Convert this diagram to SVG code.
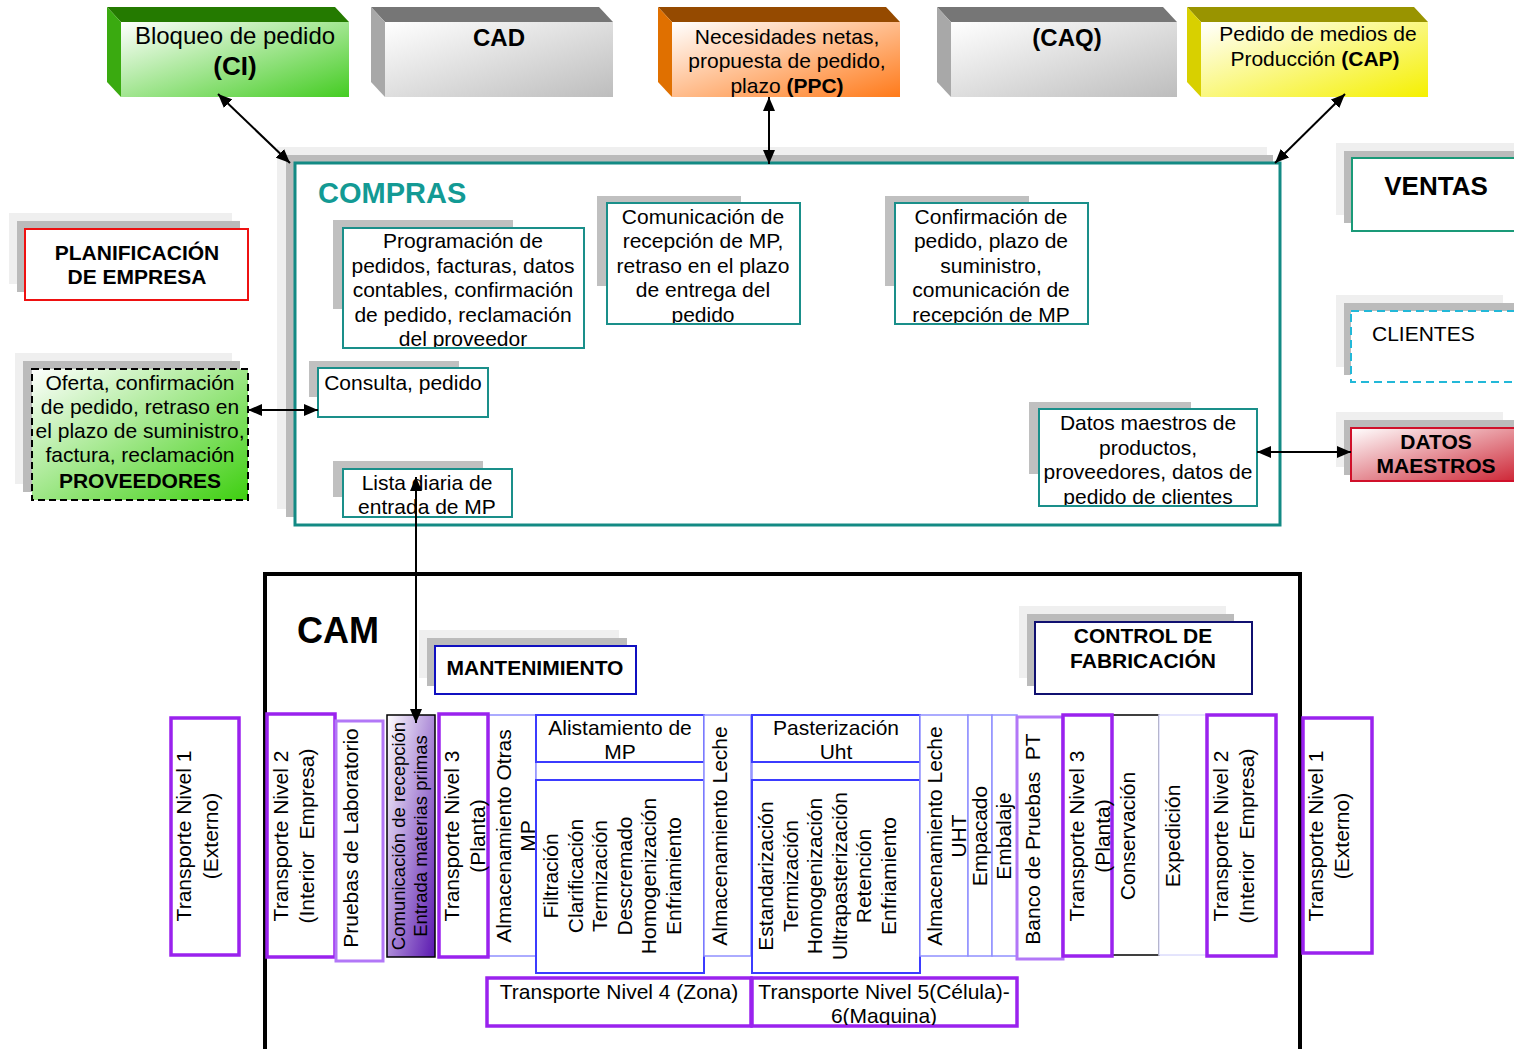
<svg xmlns="http://www.w3.org/2000/svg" width="1514" height="1049" viewBox="0 0 1514 1049">
<style>
text{font-family:"Liberation Sans",Arial,sans-serif;fill:#000;font-size:21px}
.c{text-anchor:middle}
.b{font-weight:bold}
.sl{fill:#efefef}
.sd{fill:#bbbbbb}
.sb{fill:#c0c0c0}
.tb{fill:#fff;stroke:#1a8f8a;stroke-width:2}
.pu{fill:#fff;stroke:#9a22ee;stroke-width:3.5}
.lp{fill:#fff;stroke:#b277f7;stroke-width:3}
.bl{fill:#fff;stroke:#3b3bff;stroke-width:2}
.lb{fill:#fff;stroke:#9090ff;stroke-width:1.5}
.ln{fill:none;stroke:#000;stroke-width:2;marker-start:url(#ar);marker-end:url(#ar)}
.v{font-size:21px}
</style>
<defs>
<marker id="ar" viewBox="0 0 14 12" refX="14" refY="6" markerWidth="14" markerHeight="12" markerUnits="userSpaceOnUse" orient="auto-start-reverse"><path d="M0,0 L14,6 L0,12 z" fill="#000"/></marker>
<linearGradient id="gG" x1="0" y1="0" x2="1" y2="1"><stop offset="0" stop-color="#fff"/><stop offset="1" stop-color="#44cc22"/></linearGradient>
<linearGradient id="gS" x1="0" y1="0" x2="1" y2="1"><stop offset="0" stop-color="#fff"/><stop offset="1" stop-color="#bdbdbd"/></linearGradient>
<linearGradient id="gO" x1="0" y1="0" x2="1" y2="1"><stop offset="0" stop-color="#fff"/><stop offset="1" stop-color="#ff7a1a"/></linearGradient>
<linearGradient id="gY" x1="0" y1="0" x2="1" y2="1"><stop offset="0" stop-color="#fff"/><stop offset="1" stop-color="#f5f000"/></linearGradient>
<linearGradient id="gP" x1="0" y1="0" x2="1" y2="1"><stop offset="0" stop-color="#fff"/><stop offset="1" stop-color="#3ecf10"/></linearGradient>
<linearGradient id="gR" x1="0" y1="0" x2="1" y2="1"><stop offset="0" stop-color="#fff"/><stop offset="1" stop-color="#cc2030"/></linearGradient>
<linearGradient id="gV" x1="0" y1="0" x2="1" y2="1"><stop offset="0" stop-color="#fff"/><stop offset="1" stop-color="#5a18b0"/></linearGradient>
<clipPath id="cProg"><rect x="343" y="228" width="241" height="119"/></clipPath>
<clipPath id="cCom"><rect x="607" y="203" width="193" height="120"/></clipPath>
<clipPath id="cConf"><rect x="895" y="203" width="193" height="120"/></clipPath>
<clipPath id="cDat"><rect x="1039" y="409" width="218" height="96"/></clipPath>
<clipPath id="cLista"><rect x="343" y="469" width="169" height="47"/></clipPath>
<clipPath id="cT5"><rect x="752" y="978" width="265" height="47"/></clipPath>
</defs>
<rect width="1514" height="1049" fill="#fff"/>

<!-- top boxes -->
<g id="ci">
<polygon points="107,7 335,7 349,22 121,22" fill="#247a00"/>
<polygon points="107,7 121,22 121,97 107,82" fill="#3aaa10"/>
<rect x="121" y="22" width="228" height="75" fill="url(#gG)"/>
<text class="c" x="235" y="44" style="font-size:24px">Bloqueo de pedido</text>
<text class="c b" x="235" y="75" style="font-size:26px">(CI)</text>
</g>
<g id="cad">
<polygon points="371,7 599,7 613,22 385,22" fill="#767676"/>
<polygon points="371,7 385,22 385,97 371,82" fill="#a8a8a8"/>
<rect x="385" y="22" width="228" height="75" fill="url(#gS)"/>
<text class="c b" x="499" y="46" style="font-size:24px">CAD</text>
</g>
<g id="ppc">
<polygon points="658,7 886,7 900,22 672,22" fill="#954a00"/>
<polygon points="658,7 672,22 672,97 658,82" fill="#e07000"/>
<rect x="672" y="22" width="228" height="75" fill="url(#gO)"/>
<text class="c" x="787" y="44">Necesidades netas,</text>
<text class="c" x="787" y="68">propuesta de pedido,</text>
<text class="c" x="787" y="93">plazo <tspan class="b">(PPC)</tspan></text>
</g>
<g id="caq">
<polygon points="937,7 1163,7 1177,22 951,22" fill="#767676"/>
<polygon points="937,7 951,22 951,97 937,82" fill="#a8a8a8"/>
<rect x="951" y="22" width="226" height="75" fill="url(#gS)"/>
<text class="c b" x="1067" y="46" style="font-size:24px">(CAQ)</text>
</g>
<g id="cap">
<polygon points="1187,7 1414,7 1428,22 1201,22" fill="#999400"/>
<polygon points="1187,7 1201,22 1201,97 1187,82" fill="#d8d000"/>
<rect x="1201" y="22" width="227" height="75" fill="url(#gY)"/>
<text class="c" x="1318" y="41">Pedido de medios de</text>
<text class="c" x="1315" y="66">Producción <tspan class="b">(CAP)</tspan></text>
</g>

<!-- left side -->
<g id="planificacion">
<rect class="sl" x="9" y="213" width="223" height="71"/>
<rect class="sd" x="17" y="221" width="223" height="71"/>
<rect x="25" y="229" width="223" height="71" fill="#fff" stroke="#ee1111" stroke-width="2"/>
<text class="c b" x="137" y="260">PLANIFICACIÓN</text>
<text class="c b" x="137" y="284">DE EMPRESA</text>
</g>
<g id="proveedores">
<rect class="sl" x="15" y="353" width="217" height="131"/>
<rect class="sd" x="23" y="361" width="217" height="131"/>
<rect x="32" y="369" width="216" height="131" fill="url(#gP)" stroke="#000" stroke-width="2" stroke-dasharray="7,4"/>
<text class="c" x="140" y="390">Oferta, confirmación</text>
<text class="c" x="140" y="414">de pedido, retraso en</text>
<text class="c" x="140" y="438">el plazo de suministro,</text>
<text class="c" x="140" y="462">factura, reclamación</text>
<text class="c b" x="140" y="488">PROVEEDORES</text>
</g>

<!-- COMPRAS -->
<g id="compras">
<rect class="sl" x="277" y="147" width="990" height="362"/>
<rect class="sd" x="286" y="155" width="987" height="362"/>
<rect x="295" y="163" width="985" height="362" fill="#fff" stroke="#138a84" stroke-width="3"/>
<text class="b" x="318" y="203" style="font-size:29px;fill:#139a94">COMPRAS</text>
</g>
<g id="programacion">
<rect class="sb" x="333" y="220" width="180" height="89"/>
<rect class="tb" x="343" y="228" width="241" height="120"/>
<g clip-path="url(#cProg)">
<text class="c" x="463" y="248">Programación de</text>
<text class="c" x="463" y="273">pedidos, facturas, datos</text>
<text class="c" x="463" y="297">contables, confirmación</text>
<text class="c" x="463" y="322">de pedido, reclamación</text>
<text class="c" x="463" y="346">del proveedor</text>
</g>
</g>
<g id="comunicacion">
<rect class="sb" x="597" y="196" width="144" height="90"/>
<rect class="tb" x="607" y="203" width="193" height="121"/>
<g clip-path="url(#cCom)">
<text class="c" x="703" y="224">Comunicación de</text>
<text class="c" x="703" y="248">recepción de MP,</text>
<text class="c" x="703" y="273">retraso en el plazo</text>
<text class="c" x="703" y="297">de entrega del</text>
<text class="c" x="703" y="322">pedido</text>
</g>
</g>
<g id="confirmacion">
<rect class="sb" x="885" y="196" width="144" height="90"/>
<rect class="tb" x="895" y="203" width="193" height="121"/>
<g clip-path="url(#cConf)">
<text class="c" x="991" y="224">Confirmación de</text>
<text class="c" x="991" y="248">pedido, plazo de</text>
<text class="c" x="991" y="273">suministro,</text>
<text class="c" x="991" y="297">comunicación de</text>
<text class="c" x="991" y="322">recepción de MP</text>
</g>
</g>
<g id="consulta">
<rect class="sb" x="309" y="361" width="150" height="36"/>
<rect class="tb" x="318" y="368" width="170" height="49"/>
<text class="c" x="403" y="390">Consulta, pedido</text>
</g>
<g id="lista">
<rect class="sb" x="333" y="461" width="150" height="36"/>
<rect class="tb" x="343" y="469" width="169" height="48"/>
<g clip-path="url(#cLista)">
<text class="c" x="427" y="490">Lista diaria de</text>
<text class="c" x="427" y="514">entrada de MP</text>
</g>
</g>
<g id="datos">
<rect class="sb" x="1029" y="402" width="162" height="72"/>
<rect class="tb" x="1039" y="409" width="218" height="97"/>
<g clip-path="url(#cDat)">
<text class="c" x="1148" y="430">Datos maestros de</text>
<text class="c" x="1148" y="455">productos,</text>
<text class="c" x="1148" y="479">proveedores, datos de</text>
<text class="c" x="1148" y="504">pedido de clientes</text>
</g>
</g>

<!-- right side -->
<g id="ventas">
<rect class="sl" x="1336" y="143" width="178" height="72"/>
<rect class="sd" x="1344" y="151" width="170" height="72"/>
<rect x="1352" y="158" width="170" height="73" fill="#fff" stroke="#1a9a78" stroke-width="2"/>
<text class="c b" x="1436" y="195" style="font-size:26px">VENTAS</text>
</g>
<g id="clientes">
<rect class="sl" x="1336" y="295" width="167" height="72"/>
<rect class="sd" x="1344" y="303" width="170" height="72"/>
<rect x="1351" y="311" width="175" height="71" fill="#fff" stroke="#22b8d8" stroke-width="2" stroke-dasharray="8,5"/>
<text x="1372" y="341">CLIENTES</text>
</g>
<g id="datosmaestros">
<rect class="sl" x="1336" y="412" width="167" height="55"/>
<rect class="sd" x="1344" y="420" width="170" height="55"/>
<rect x="1351" y="428" width="175" height="53" fill="url(#gR)" stroke="#d0102a" stroke-width="2"/>
<text class="c b" x="1436" y="449">DATOS</text>
<text class="c b" x="1436" y="473">MAESTROS</text>
</g>

<!-- CAM -->
<g id="cam">
<rect x="265" y="574" width="1035" height="500" fill="#fff" stroke="#000" stroke-width="4"/>
<text class="b" x="297" y="643" style="font-size:36px">CAM</text>
</g>
<g id="mantenimiento">
<rect class="sl" x="419" y="630" width="200" height="48"/>
<rect class="sd" x="427" y="638" width="200" height="48"/>
<rect x="435" y="646" width="201" height="48" fill="#fff" stroke="#1010c0" stroke-width="2"/>
<text class="c b" x="535" y="675">MANTENIMIENTO</text>
</g>
<g id="controlfab">
<rect class="sl" x="1019" y="606" width="207" height="72"/>
<rect class="sd" x="1027" y="614" width="207" height="72"/>
<rect x="1035" y="622" width="217" height="72" fill="#fff" stroke="#101070" stroke-width="2"/>
<text class="c b" x="1143" y="643">CONTROL DE</text>
<text class="c b" x="1143" y="668">FABRICACIÓN</text>
</g>

<!-- columns -->
<g id="tn1l">
<rect class="pu" x="171" y="718" width="68" height="237"/>
<text class="c v" transform="translate(191,836) rotate(-90)">Transporte Nivel 1</text>
<text class="c v" transform="translate(218,836) rotate(-90)">(Externo)</text>
</g>
<g id="tn2l">
<rect class="pu" x="267" y="714" width="68" height="243"/>
<text class="c v" transform="translate(288,836) rotate(-90)">Transporte Nivel 2</text>
<text class="c v" transform="translate(314,836) rotate(-90)">(Interior&#160; Empresa)</text>
</g>
<g id="pruebas">
<rect class="lp" x="336" y="721" width="47" height="240"/>
<text class="c v" transform="translate(358,838) rotate(-90)">Pruebas de Laboratorio</text>
</g>
<g id="comrec">
<rect x="387" y="715" width="48" height="242" fill="url(#gV)" stroke="#000" stroke-width="1.5"/>
<text class="c" style="font-size:18.5px" transform="translate(405,836) rotate(-90)">Comunicación de recepción</text>
<text class="c" style="font-size:18.5px" transform="translate(427,836) rotate(-90)">Entrada materias primas</text>
</g>
<g id="almotras">
<rect class="lb" x="488" y="715" width="48" height="241"/>
<rect class="lb" x="536" y="715" width="168" height="241"/>
<text class="c v" transform="translate(511,836) rotate(-90)">Almacenamiento Otras</text>
<text class="c v" transform="translate(535,836) rotate(-90)">MP</text>
</g>
<g id="tn3l">
<rect class="pu" x="439" y="714" width="49" height="243"/>
<text class="c v" transform="translate(459,836) rotate(-90)">Transporte Nivel 3</text>
<text class="c v" transform="translate(485,836) rotate(-90)">(Planta)</text>
</g>
<g id="alistamiento">
<rect class="bl" x="536" y="715" width="168" height="47"/>
<text class="c" x="620" y="735">Alistamiento de</text>
<text class="c" x="620" y="759">MP</text>
</g>
<g id="filtracion">
<rect class="bl" x="536" y="780" width="168" height="193"/>
<text class="c v" transform="translate(558,876) rotate(-90)">Filtración</text>
<text class="c v" transform="translate(582.5,876) rotate(-90)">Clarificación</text>
<text class="c v" transform="translate(607,876) rotate(-90)">Termización</text>
<text class="c v" transform="translate(631.5,876) rotate(-90)">Descremado</text>
<text class="c v" transform="translate(656,876) rotate(-90)">Homogenización</text>
<text class="c v" transform="translate(680.5,876) rotate(-90)">Enfriamiento</text>
</g>
<g id="almleche">
<rect class="lb" x="704" y="715" width="47" height="241"/>
<text class="c v" transform="translate(727,836) rotate(-90)">Almacenamiento Leche</text>
</g>
<g id="pasterizacion">
<rect class="lb" x="752" y="715" width="168" height="241"/>
<rect class="bl" x="752" y="715" width="168" height="47"/>
<text class="c" x="836" y="735">Pasterización</text>
<text class="c" x="836" y="759">Uht</text>
</g>
<g id="estandarizacion">
<rect class="bl" x="752" y="780" width="168" height="193"/>
<text class="c v" transform="translate(773,876) rotate(-90)">Estandarización</text>
<text class="c v" transform="translate(797.5,876) rotate(-90)">Termización</text>
<text class="c v" transform="translate(822,876) rotate(-90)">Homogenización</text>
<text class="c v" transform="translate(846.5,876) rotate(-90)">Ultrapasterización</text>
<text class="c v" transform="translate(871,876) rotate(-90)">Retención</text>
<text class="c v" transform="translate(895.5,876) rotate(-90)">Enfriamiento</text>
</g>
<g id="almuht">
<rect class="lb" x="920" y="715" width="48" height="241"/>
<text class="c v" transform="translate(942,836) rotate(-90)">Almacenamiento Leche</text>
<text class="c v" transform="translate(966,836) rotate(-90)">UHT</text>
</g>
<g id="empacado">
<rect class="lb" x="968" y="715" width="24" height="241"/>
<text class="c v" transform="translate(987,836) rotate(-90)">Empacado</text>
</g>
<g id="embalaje">
<rect class="lb" x="992" y="715" width="25" height="241"/>
<text class="c v" transform="translate(1011,836) rotate(-90)">Embalaje</text>
</g>
<g id="banco">
<rect class="lp" x="1017" y="717" width="46" height="242"/>
<text class="c v" transform="translate(1040,839) rotate(-90)">Banco de Pruebas&#160; PT</text>
</g>
<g id="conservacion">
<rect x="1112" y="715" width="47" height="240" fill="#fff" stroke="#000" stroke-width="1.5"/>
<text class="c v" transform="translate(1135,836) rotate(-90)">Conservación</text>
</g>
<g id="tn3r">
<rect class="pu" x="1063" y="715" width="49" height="241"/>
<text class="c v" transform="translate(1084,836) rotate(-90)">Transporte Nivel 3</text>
<text class="c v" transform="translate(1110,836) rotate(-90)">(Planta)</text>
</g>
<g id="expedicion">
<rect x="1159" y="715" width="49" height="240" fill="#fff" stroke="#dcdcfc" stroke-width="1.5"/>
<text class="c v" transform="translate(1180,836) rotate(-90)">Expedición</text>
</g>
<g id="tn2r">
<rect class="pu" x="1207" y="715" width="69" height="241"/>
<text class="c v" transform="translate(1228,836) rotate(-90)">Transporte Nivel 2</text>
<text class="c v" transform="translate(1254,836) rotate(-90)">(Interior&#160; Empresa)</text>
</g>
<g id="tn1r">
<rect class="pu" x="1303" y="718" width="69" height="235"/>
<text class="c v" transform="translate(1323,836) rotate(-90)">Transporte Nivel 1</text>
<text class="c v" transform="translate(1349,836) rotate(-90)">(Externo)</text>
</g>
<g id="tn4">
<rect class="pu" x="487" y="978" width="264" height="48"/>
<text class="c" x="619" y="999">Transporte Nivel 4 (Zona)</text>
</g>
<g id="tn5">
<rect class="pu" x="752" y="978" width="265" height="48"/>
<g clip-path="url(#cT5)">
<text class="c" x="884" y="999">Transporte Nivel 5(Célula)-</text>
<text class="c" x="884" y="1023">6(Maquina)</text>
</g>
</g>

<!-- connectors -->
<g id="connectors">
<line class="ln" x1="218" y1="94" x2="290" y2="163"/>
<line class="ln" x1="769" y1="97" x2="769" y2="164"/>
<line class="ln" x1="1345" y1="94" x2="1275" y2="163"/>
<line class="ln" x1="248" y1="410" x2="318" y2="410"/>
<line class="ln" x1="1257" y1="452" x2="1351" y2="452"/>
<line class="ln" x1="416" y1="477" x2="416" y2="723"/>
</g>
</svg>
